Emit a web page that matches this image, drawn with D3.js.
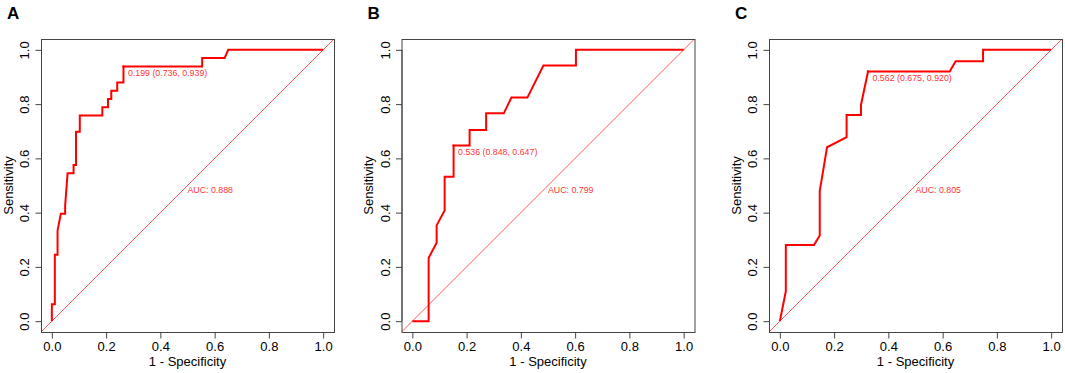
<!DOCTYPE html>
<html>
<head>
<meta charset="utf-8">
<script src="https://cdn.jsdelivr.net/npm/d3@7"></script>
<style>
  body { margin: 0; background: #fff; }
  svg { display: block; font-family: "Liberation Sans", Arial, sans-serif; }
</style>
</head>
<body>
<svg id="chart" width="1065" height="373"></svg>
<script>
// panel A
let fprA = [0, 0, 0.011, 0.011, 0.021, 0.021, 0.033, 0.049, 0.049, 0.058, 0.080, 0.080, 0.089, 0.089, 0.103, 0.103, 0.186, 0.186, 0.207, 0.207, 0.219, 0.219, 0.241, 0.241, 0.264, 0.264, 0.554, 0.554, 0.637, 0.650, 1.0];
let tprA = [0, 0.0625, 0.0625, 0.245, 0.245, 0.334, 0.396, 0.396, 0.426, 0.545, 0.545, 0.576, 0.576, 0.698, 0.698, 0.758, 0.758, 0.788, 0.788, 0.819, 0.819, 0.849, 0.849, 0.880, 0.880, 0.939, 0.939, 0.970, 0.970, 1.0, 1.0];
// panel B
let fprB = [0, 0.060, 0.060, 0.0895, 0.0895, 0.119, 0.119, 0.152, 0.152, 0.211, 0.211, 0.272, 0.272, 0.337, 0.365, 0.424, 0.483, 0.603, 0.603, 1.0];
let tprB = [0, 0, 0.233, 0.289, 0.353, 0.408, 0.532, 0.532, 0.647, 0.647, 0.705, 0.705, 0.766, 0.766, 0.824, 0.824, 0.942, 0.942, 1.0, 1.0];
// panel C
let fprC = [0, 0.022, 0.022, 0.126, 0.147, 0.147, 0.174, 0.246, 0.246, 0.299, 0.299, 0.325, 0.626, 0.648, 0.749, 0.749, 1.0];
let tprC = [0, 0.110, 0.281, 0.281, 0.316, 0.479, 0.641, 0.678, 0.760, 0.760, 0.797, 0.920, 0.920, 0.958, 0.958, 1.0, 1.0];

let panelLabels = ["A", "B", "C"];
let aucValues = ["0.888", "0.799", "0.805"];
let thresholds = ["0.199", "0.536", "0.562"];
let bestSpec = [0.736, 0.848, 0.675];
let bestSens = [0.939, 0.647, 0.920];
let tickValues = [0, 0.2, 0.4, 0.6, 0.8, 1.0];

let curves = [[fprA, tprA], [fprB, tprB], [fprC, tprC]];

let svg = d3.select("#chart");
let panel_left = [41, 401.5, 769];
let plot_top = 39, plot_size = 293;
let red = "#ff0000";

curves.forEach(function(c, k){
  let left = panel_left[k];
  let x = d3.scaleLinear().domain([-0.04, 1.04]).range([left, left + plot_size]);
  let y = d3.scaleLinear().domain([-0.04, 1.04]).range([plot_top + plot_size, plot_top]);
  let g = svg.append("g").attr("class", "panel");

  // panel letter
  g.append("text").attr("x", left - 34).attr("y", 18.5)
    .attr("font-size", 17).attr("font-weight", "bold").attr("fill", "#000")
    .text(panelLabels[k]);

  // clip for diagonal
  let clipId = "clip" + k;
  svg.append("clipPath").attr("id", clipId).append("rect")
    .attr("x", left).attr("y", plot_top).attr("width", plot_size).attr("height", plot_size);

  // reference diagonal
  g.append("line").attr("clip-path", "url(#" + clipId + ")")
    .attr("x1", x(-0.04)).attr("y1", y(-0.04)).attr("x2", x(1.04)).attr("y2", y(1.04))
    .attr("stroke", red).attr("stroke-opacity", 0.65).attr("stroke-width", 1);

  // roc curve
  let pts = c[0].map((d, i) => [d, c[1][i]]);
  let line = d3.line().x(d => x(d[0])).y(d => y(d[1]));
  g.append("path").attr("d", line(pts)).attr("fill", "none")
    .attr("stroke", red).attr("stroke-width", 2).attr("stroke-linejoin", "miter");

  // best threshold
  let tx = x(1 - bestSpec[k]), ty = y(bestSens[k]);
  g.append("circle").attr("cx", tx).attr("cy", ty).attr("r", 1.2).attr("fill", red);
  g.append("text").attr("x", tx + 4.5).attr("y", ty + 9.8)
    .attr("font-size", 8.8).attr("fill", red).attr("fill-opacity", 0.85)
    .text(thresholds[k] + " (" + bestSpec[k].toFixed(3) + ", " + bestSens[k].toFixed(3) + ")");

  // auc
  g.append("text").attr("x", x(0.5)).attr("y", y(0.5) + 7)
    .attr("font-size", 8.8).attr("fill", red).attr("fill-opacity", 0.85)
    .text("AUC: " + aucValues[k]);

  // box
  g.append("rect").attr("x", left + 0.5).attr("y", plot_top + 0.5)
    .attr("width", plot_size).attr("height", plot_size)
    .attr("fill", "none").attr("stroke", "#444").attr("stroke-width", 1);

  // x axis
  let xAxis = g.append("g").attr("transform", "translate(0," + (plot_top + plot_size + 0.5) + ")")
    .call(d3.axisBottom(x).tickValues(tickValues).tickSize(6).tickPadding(3).tickFormat(d3.format(".1f")));
  xAxis.select(".domain").attr("d", "M" + x(0) + ",0H" + x(1)).attr("stroke", "#444");
  xAxis.selectAll(".tick line").attr("stroke", "#444");
  xAxis.selectAll("text").attr("font-size", 13).attr("font-family", null).attr("fill", "#000")
    .attr("dy", null).attr("y", 18.5);

  // y axis
  let yAxis = g.append("g").attr("transform", "translate(" + (left + 0.5) + ",0)")
    .call(d3.axisLeft(y).tickValues(tickValues).tickSize(6).tickFormat(d3.format(".1f")));
  yAxis.select(".domain").attr("d", "M0," + y(0) + "V" + y(1)).attr("stroke", "#444");
  yAxis.selectAll(".tick line").attr("stroke", "#444");
  yAxis.selectAll("text").attr("font-size", 13).attr("font-family", null).attr("fill", "#000")
    .attr("x", null).attr("dy", null)
    .attr("text-anchor", "middle")
    .attr("transform", "translate(-12.5,0) rotate(-90)");

  // axis titles
  g.append("text").attr("x", left + plot_size / 2).attr("y", 366)
    .attr("text-anchor", "middle").attr("font-size", 13).attr("fill", "#000")
    .text("1 - Specificity");
  g.append("text")
    .attr("transform", "translate(" + (left - 28.5) + "," + (plot_top + plot_size / 2) + ") rotate(-90)")
    .attr("text-anchor", "middle").attr("font-size", 13).attr("fill", "#000")
    .text("Sensitivity");
});
</script>
</body>
</html>
